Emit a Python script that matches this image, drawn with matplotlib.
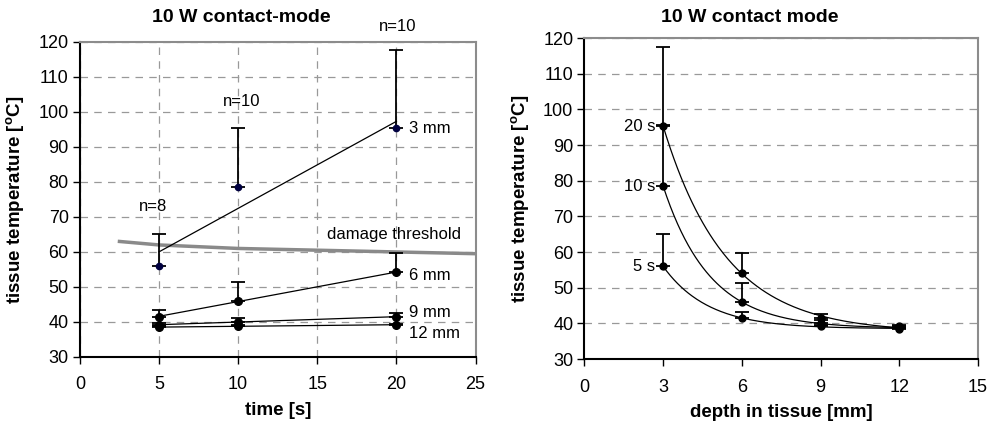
import numpy as np
import matplotlib.pyplot as plt

plt.rcParams['font.family'] = ['Liberation Sans', 'DejaVu Sans']

# mean temperatures and upper error (std) per depth, at each exposure time
time_s = [5, 10, 20]
depth_mm = [3, 6, 9, 12]

temp_3mm = [56.0, 78.5, 95.3]
temp_6mm = [41.5, 46.0, 54.2]
temp_9mm = [39.2, 40.0, 41.5]
temp_12mm = [38.5, 38.8, 39.2]

err_3mm = [9.0, 17.0, 22.3]
err_6mm = [1.8, 5.3, 5.5]
err_9mm = [0.4, 1.0, 1.2]
err_12mm = [0.3, 0.3, 0.3]

n_counts = ["n=8", "n=10", "n=10"]
depth_labels = ["3 mm", "6 mm", "9 mm", "12 mm"]
time_labels = ["5 s", "10 s", "20 s"]

# damage threshold curve
thr_t = [2.5, 5, 10, 15, 20, 25]
thr_v = [63.0, 62.0, 61.0, 60.5, 60.0, 59.5]

temps = np.array([temp_3mm, temp_6mm, temp_9mm, temp_12mm])
errs = np.array([err_3mm, err_6mm, err_9mm, err_12mm])

TICK = 13
LAB = 13.5
ANN = 12

fig = plt.figure(figsize=(9.99, 4.28), dpi=100)
ax1 = fig.add_axes([0.080, 0.166, 0.396, 0.736])
ax2 = fig.add_axes([0.585, 0.161, 0.394, 0.750])

def style_axes(ax, vgrid):
    for s in ['left', 'bottom']:
        ax.spines[s].set_color('black')
        ax.spines[s].set_linewidth(1.5)
    for s in ['top', 'right']:
        ax.spines[s].set_color('#8c8c8c')
        ax.spines[s].set_linewidth(1.5)
    ax.tick_params(direction='out', length=5, width=1, labelsize=TICK)
    ax.tick_params(axis='x', pad=9)
    ax.tick_params(axis='y', pad=3)
    ax.grid(axis='y', color='#999999', linestyle=(0, (6, 5)), linewidth=0.9)
    if vgrid:
        ax.grid(axis='x', color='#999999', linestyle=(0, (6, 5)), linewidth=0.9)
    ax.set_axisbelow(True)
    ax.set_ylim(30, 120)
    ax.set_yticks(range(30, 121, 10))
    ax.set_ylabel("tissue temperature [$^\\mathregular{o}$C]", fontsize=LAB,
                  fontweight='bold', labelpad=8)

# ---- left: temperature vs time ----
ax = ax1
style_axes(ax, True)
ax.plot(thr_t, thr_v, color='#8a8a8a', lw=2.5, zorder=2)
t = np.array(time_s)
for i in range(4):
    col = '#000040' if i == 0 else 'black'
    ms = 4.5 if i == 0 else 5.5
    k, b = np.polyfit(t, temps[i], 1)
    ax.plot([t[0], t[-1]], [k * t[0] + b, k * t[-1] + b], color='black', lw=0.9, zorder=3)
    ax.errorbar(t, temps[i], yerr=[np.zeros(3), errs[i]], fmt='o', color=col,
                ecolor='black', elinewidth=1.3, capsize=5, capthick=1.3,
                markersize=ms, zorder=4)
for x, y, s in zip([4.6, 10.2, 20.1], [73, 103, 124.5], n_counts):
    ax.text(x, y, s, ha='center', va='center', fontsize=ANN, clip_on=False)
for y, s in zip([95.4, 53.4, 42.6, 36.6], depth_labels):
    ax.text(20.8, y, s, ha='left', va='center', fontsize=ANN)
ax.text(15.6, 65.0, "damage threshold", ha='left', va='center', fontsize=ANN)
ax.set_xlim(0, 25)
ax.set_xticks(range(0, 26, 5))
ax.set_xlabel("time [s]", fontsize=LAB, fontweight='bold', labelpad=6)
ax.set_title("10 W contact-mode", fontsize=14, fontweight='bold', pad=14,
             x=0.409)

# ---- right: temperature vs depth ----
ax = ax2
style_axes(ax, False)
d = np.array(depth_mm, dtype=float)
dd = np.linspace(3, 12.1, 200)
for j in range(3):
    y = temps[:, j]
    e = errs[:, j]
    # exponential decay fit: y = c + a*exp(-k*d)
    best = None
    for kk in np.linspace(0.05, 1.5, 600):
        A = np.column_stack([np.exp(-kk * d), np.ones_like(d)])
        coef, res, *_ = np.linalg.lstsq(A, y, rcond=None)
        r = np.sum((A @ coef - y) ** 2)
        if best is None or r < best[0]:
            best = (r, kk, coef)
    _, kk, (a, c) = best
    ax.plot(dd, c + a * np.exp(-kk * dd), color='black', lw=0.9, zorder=3)
    ax.errorbar(d, y, yerr=[np.zeros(4), e], fmt='o', color='black',
                elinewidth=1.3, capsize=5, capthick=1.3, markersize=5, zorder=4)
    ax.text(2.7, y[0], time_labels[j], ha='right', va='center', fontsize=ANN)
ax.set_xlim(0, 15)
ax.set_xticks(range(0, 16, 3))
ax.set_xlabel("depth in tissue [mm]", fontsize=LAB, fontweight='bold', labelpad=6)
ax.set_title("10 W contact mode", fontsize=14, fontweight='bold', pad=11.5,
             x=0.421)

fig.savefig("out.png", dpi=100)
